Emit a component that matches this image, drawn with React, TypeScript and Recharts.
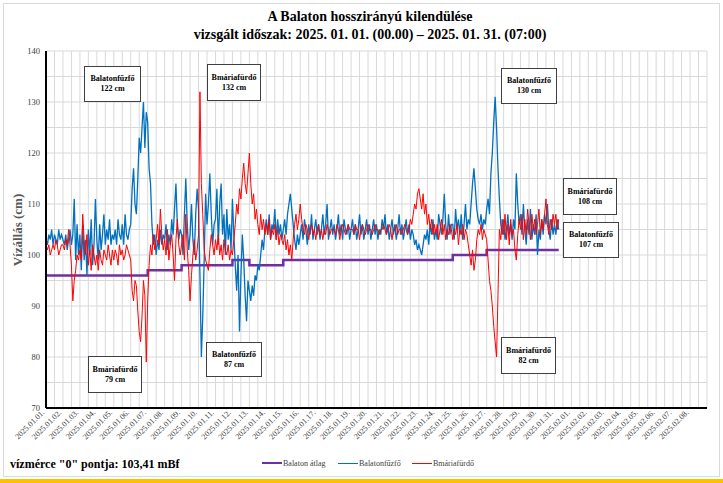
import { LineChart, Line, XAxis, YAxis, CartesianGrid } from 'recharts'

const SERIF = '"Liberation Serif", "Times New Roman", serif'

// napi címkék az x tengelyen
const dayLabels = [
  '2025.01.01.', '2025.01.02.', '2025.01.03.', '2025.01.04.', '2025.01.05.', '2025.01.06.', '2025.01.07.',
  '2025.01.08.', '2025.01.09.', '2025.01.10.', '2025.01.11.', '2025.01.12.', '2025.01.13.', '2025.01.14.',
  '2025.01.15.', '2025.01.16.', '2025.01.17.', '2025.01.18.', '2025.01.19.', '2025.01.20.', '2025.01.21.',
  '2025.01.22.', '2025.01.23.', '2025.01.24.', '2025.01.25.', '2025.01.26.', '2025.01.27.', '2025.01.28.',
  '2025.01.29.', '2025.01.30.', '2025.01.31.', '2025.02.01.', '2025.02.02.', '2025.02.03.', '2025.02.04.',
  '2025.02.05.', '2025.02.06.', '2025.02.07.', '2025.02.08.',
]

const yTicks = [70, 75, 80, 85, 90, 95, 100, 105, 110, 115, 120, 125, 130, 135, 140]

// Balatonfűzfő, 2 órás értékek (cm)
const fuzfo = [
  103, 102, 104, 103, 105, 102, 104, 103, 102, 105, 103, 104,
  103, 102, 104, 101, 103, 105, 102, 104, 111, 99, 106, 100,
  104, 97, 106, 99, 103, 96, 105, 100, 107, 98, 102, 111,
  103, 99, 106, 101, 104, 108, 102, 105, 103, 107, 102, 104,
  103, 105, 102, 107, 104, 103, 106, 102, 108, 104, 103, 105,
  106, 113, 117, 110, 108, 115, 123, 120, 125, 130, 121, 128,
  126, 117, 114, 106, 102, 104, 100, 103, 101, 105, 102, 104,
  103, 106, 101, 104, 102, 107, 104, 109, 114, 106, 103, 105,
  104, 100, 108, 115, 106, 101, 104, 110, 103, 100, 108, 113,
  109, 96, 80, 88, 99, 112, 106, 110, 116, 108, 102, 106,
  107, 113, 102, 110, 114, 104, 108, 100, 109, 103, 106, 101,
  111, 104, 98, 93, 100, 85, 96, 104, 99, 92, 87, 95,
  93, 91, 94, 92, 96, 95, 98, 97, 100, 103, 101, 105,
  107, 104, 108, 103, 106, 105, 109, 103, 107, 104, 106, 103,
  105, 107, 104, 108, 110, 112, 109, 106, 103, 101, 104, 102,
  104, 106, 103, 107, 105, 102, 106, 104, 108, 103, 105, 107,
  104, 106, 103, 105, 108, 104, 106, 110, 103, 105, 107, 104,
  106, 103, 105, 108, 104, 106, 103, 107, 105, 104, 106, 103,
  105, 107, 104, 106, 103, 105, 108, 104, 106, 103, 105, 107,
  104, 106, 103, 105, 107, 104, 106, 103, 105, 104, 107, 105,
  108, 104, 106, 103, 105, 107, 104, 106, 103, 105, 108, 104,
  106, 103, 105, 107, 104, 106, 103, 105, 104, 102, 103, 101,
  102, 101, 100, 102, 104, 103, 105, 102, 106, 104, 107, 103,
  105, 103, 108, 106, 104, 107, 112, 106, 103, 108, 104, 106,
  106, 103, 109, 105, 107, 104, 108, 103, 106, 110, 105, 107,
  106, 110, 114, 117, 113, 109, 107, 106, 108, 105, 107, 106,
  109, 111, 108, 116, 120, 126, 131, 125, 117, 111, 106, 104,
  107, 103, 105, 108, 104, 106, 103, 107, 105, 116, 110, 106,
  108, 104, 110, 105, 102, 107, 104, 109, 103, 106, 104, 108,
  100, 105, 103, 107, 104, 108, 106, 110, 105, 103, 107, 104,
  106, 104, 107, 105,
]

// Balatonmáriafürdő, 2 órás értékek (cm)
const mariafurdo = [
  102, 101, 102, 100, 101, 102, 101, 103, 102, 100, 101, 102,
  102, 101, 103, 102, 105, 102, 98, 91, 95, 97, 100, 99,
  101, 99, 108, 103, 100, 104, 98, 101, 97, 102, 100, 98,
  100, 97, 101, 99, 98, 101, 100, 99, 102, 100, 98, 101,
  99, 101, 100, 98, 102, 100, 101, 99, 100, 102, 101, 100,
  99, 93, 91, 95, 94, 89, 85, 83, 88, 95, 92, 79,
  91, 98, 102, 100, 104, 101, 103, 106, 102, 109, 104, 101,
  103, 100, 105, 99, 102, 104, 100, 95, 103, 107, 102, 100,
  102, 104, 99, 108, 101, 97, 91, 96, 100, 103, 99, 101,
  104, 132, 114, 108, 101, 99, 98, 97, 101, 104, 102, 100,
  103, 101, 104, 100, 102, 99, 103, 101, 100, 102, 99, 101,
  100, 103, 106, 110, 108, 113, 111, 115, 118, 114, 112, 116,
  120, 114, 110, 112, 107, 109, 106, 104, 108, 105, 107, 104,
  106, 104, 107, 103, 105, 104, 106, 103, 105, 102, 104, 103,
  102, 104, 101, 103, 100, 102, 99, 103, 106, 108, 105, 107,
  110, 107, 105, 104, 106, 105, 103, 105, 106, 104, 105, 103,
  105, 106, 104, 105, 103, 105, 104, 106, 105, 104, 105, 105,
  105, 104, 106, 105, 103, 105, 106, 105, 104, 105, 106, 105,
  105, 105, 104, 106, 105, 105, 103, 105, 106, 105, 104, 105,
  106, 105, 105, 104, 105, 106, 105, 105, 104, 105, 105, 106,
  105, 104, 105, 106, 105, 103, 105, 105, 106, 104, 105, 105,
  104, 105, 106, 105, 104, 105, 107, 106, 108, 110, 109, 112,
  113, 111, 109, 112, 108, 110, 106, 108, 105, 107, 104, 106,
  104, 106, 103, 105, 107, 104, 106, 103, 105, 104, 106, 105,
  103, 105, 104, 106, 102, 105, 104, 106, 103, 105, 104, 102,
  100, 98, 101, 97, 99, 103, 105, 104, 106, 103, 105, 104,
  103, 99, 95, 93, 90, 86, 83, 80, 92, 105, 103, 107,
  104, 108, 103, 106, 102, 107, 104, 105, 101, 99, 104, 107,
  105, 108, 103, 107, 104, 109, 106, 103, 108, 105, 107, 104,
  106, 109, 104, 107, 105, 108, 111, 106, 104, 107, 105, 108,
  106, 108, 105, 107,
]

// Balaton átlag, napi értékek (cm)
const atlagDaily = [
  96, 96, 96, 96, 96, 96, 97, 97, 98, 98, 98, 99, 98, 98, 99, 99,
  99, 99, 99, 99, 99, 99, 99, 99, 100, 100, 101, 101, 101, 101, 101,
]

const rows = fuzfo.map((v, i) => ({
  t: i / 12,
  fuzfo: v,
  mariafurdo: mariafurdo[i],
  atlag: atlagDaily[Math.floor(i / 12)],
}))

const halfDayTicks = Array.from({ length: 79 }, (_, i) => i / 2)

const notes = [
  { name: 'Balatonfűzfő', value: '122 cm', left: 84, top: 66, width: 57, height: 36 },
  { name: 'Bmáriafürdő', value: '132 cm', left: 207, top: 64, width: 54, height: 37 },
  { name: 'Balatonfűzfő', value: '130 cm', left: 501, top: 68, width: 56, height: 36 },
  { name: 'Bmáriafürdő', value: '108 cm', left: 563, top: 178, width: 54, height: 37 },
  { name: 'Balatonfűzfő', value: '107 cm', left: 563, top: 222, width: 56, height: 36 },
  { name: 'Bmáriafürdő', value: '82 cm', left: 501, top: 337, width: 55, height: 37 },
  { name: 'Bmáriafürdő', value: '79 cm', left: 88, top: 356, width: 54, height: 37 },
  { name: 'Balatonfűzfő', value: '87 cm', left: 206, top: 342, width: 56, height: 35 },
]

const DateTick = (props: any) => {
  const { x, y, payload } = props
  const v = payload.value
  if (!Number.isInteger(v) || v >= dayLabels.length) return <g />
  const tx = x - 1
  const ty = y + 5
  return (
    <text x={tx} y={ty} transform={`rotate(-45 ${tx} ${ty})`} textAnchor="end"
      fontSize={8} fontFamily={SERIF} fill="#404040">
      {dayLabels[v]}
    </text>
  )
}

function Note({ name, value, left, top, width, height }: any) {
  return (
    <div style={{
      position: 'absolute', left, top, width, height, boxSizing: 'border-box',
      border: '1px solid #404040', background: '#fff', fontFamily: SERIF, fontWeight: 700,
      fontSize: 8, lineHeight: '10px', textAlign: 'center', color: '#000',
      display: 'flex', flexDirection: 'column', justifyContent: 'center',
    }}>
      <div>{name}</div>
      <div>{value}</div>
    </div>
  )
}

function LegendItem({ color, width, label, left }: any) {
  return (
    <div style={{ position: 'absolute', left, top: 457, display: 'flex', alignItems: 'center', height: 12 }}>
      <div style={{ width: 20, height: width, background: color }} />
      <span style={{ fontFamily: SERIF, fontSize: 8, color: '#404040', marginLeft: 1 }}>{label}</span>
    </div>
  )
}

export default function App() {
  return (
    <div style={{ position: 'absolute', left: 0, top: 0, width: 723, height: 483, background: '#fff', overflow: 'hidden' }}>
      <div style={{ position: 'absolute', left: 3, top: 3, width: 717, height: 474, border: '1px solid #d9d9d9', boxSizing: 'border-box' }} />
      <div style={{ position: 'absolute', left: 0, top: 479, width: 723, height: 4, background: '#FFC000' }} />

      <div style={{ position: 'absolute', left: 0, top: 8, width: 740, textAlign: 'center', fontFamily: SERIF, fontWeight: 700, fontSize: 14, lineHeight: '18px', color: '#000' }}>
        <div>A Balaton hosszirányú kilendülése</div>
        <div>vizsgált időszak: 2025. 01. 01. (00.00) – 2025. 01. 31. (07:00)</div>
      </div>

      <div style={{ position: 'absolute', left: 18, top: 230, transform: 'translate(-50%, -50%) rotate(-90deg)', whiteSpace: 'nowrap', fontFamily: SERIF, fontWeight: 700, fontSize: 13, color: '#595959' }}>
        Vízállás (cm)
      </div>

      <LineChart width={723} height={483} data={rows} margin={{ top: 51, right: 16, left: 6, bottom: 15 }}
        style={{ position: 'absolute', left: 0, top: 0 }}>
        <CartesianGrid stroke="#d9d9d9" strokeWidth={1} />
        <XAxis type="number" dataKey="t" domain={[0, 39]} ticks={halfDayTicks} interval={0} height={60}
          tick={<DateTick />} tickLine={false} tickSize={0} tickMargin={0}
          axisLine={{ stroke: '#000', strokeWidth: 2 }} allowDataOverflow />
        <YAxis type="number" domain={[70, 140]} ticks={yTicks} interval={0} width={40}
          tickFormatter={(v: number) => (v % 10 === 0 ? String(v) : '')}
          tick={{ fontSize: 8.5, fontFamily: SERIF, fill: '#404040' }}
          tickLine={false} tickSize={0} tickMargin={6}
          axisLine={{ stroke: '#000', strokeWidth: 2 }} />
        <Line type="stepAfter" dataKey="atlag" stroke="#7030A0" strokeWidth={2.5} dot={false} isAnimationActive={false} />
        <Line type="linear" dataKey="fuzfo" stroke="#0070C0" strokeWidth={1.3} dot={false} isAnimationActive={false} />
        <Line type="linear" dataKey="mariafurdo" stroke="#FF0000" strokeWidth={1} dot={false} isAnimationActive={false} />
      </LineChart>

      {notes.map((n, i) => <Note key={i} {...n} />)}

      <div style={{ position: 'absolute', left: 10, top: 457, fontFamily: SERIF, fontWeight: 700, fontSize: 12, color: '#000', whiteSpace: 'nowrap' }}>
        vízmérce "0" pontja: 103,41 mBf
      </div>
      <LegendItem color="#7030A0" width={2.5} label="Balaton átlag" left={262} />
      <LegendItem color="#0070C0" width={1} label="Balatonfűzfő" left={338} />
      <LegendItem color="#FF0000" width={1} label="Bmáriafürdő" left={412} />
    </div>
  )
}
